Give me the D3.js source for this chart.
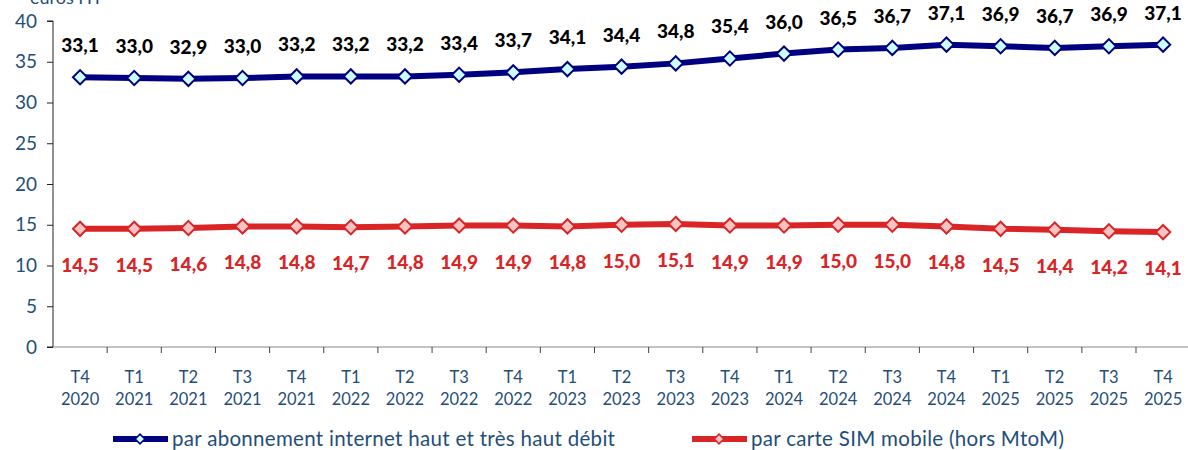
<!DOCTYPE html>
<html>
<head>
<meta charset="utf-8">
<script src="https://cdn.jsdelivr.net/npm/d3@7"></script>
<style>
  body { margin: 0; background: #fff; }
  svg text { font-family: Lato, "Open Sans", sans-serif; }
</style>
</head>
<body>
<div id="chart"></div>
<script>
const quarters = ['T4', 'T1', 'T2', 'T3', 'T4', 'T1', 'T2', 'T3', 'T4', 'T1', 'T2', 'T3', 'T4', 'T1', 'T2', 'T3', 'T4', 'T1', 'T2', 'T3', 'T4'];
const years = ['2020', '2021', '2021', '2021', '2021', '2022', '2022', '2022', '2022', '2023', '2023', '2023', '2023', '2024', '2024', '2024', '2024', '2025', '2025', '2025', '2025'];
const internet = [33.1, 33.0, 32.9, 33.0, 33.2, 33.2, 33.2, 33.4, 33.7, 34.1, 34.4, 34.8, 35.4, 36.0, 36.5, 36.7, 37.1, 36.9, 36.7, 36.9, 37.1];
const sim = [14.5, 14.5, 14.6, 14.8, 14.8, 14.7, 14.8, 14.9, 14.9, 14.8, 15.0, 15.1, 14.9, 14.9, 15.0, 15.0, 14.8, 14.5, 14.4, 14.2, 14.1];
const yTicks = [0, 5, 10, 15, 20, 25, 30, 35, 40];
const seriesNames = ['par abonnement internet haut et très haut débit', 'par carte SIM mobile (hors MtoM)'];

const width = 1188;
const height = 450;
const plotLeft = 53;
const plotTop = 21;
const plotBottom = 347;
const step = 54.15;
const axisColor = '#1f4e79';

const keys = quarters.map((q, i) => i);

const x = d3.scaleBand()
  .domain(keys)
  .range([plotLeft, plotLeft + step * keys.length]);

const y = d3.scaleLinear()
  .domain([0, 40])
  .range([plotBottom, plotTop]);

const svg = d3.select('#chart')
  .append('svg')
  .attr('width', width)
  .attr('height', height);

// unit text, cut off at the top like in the source
svg.append('text')
  .attr('x', 30)
  .attr('y', 4)
  .attr('fill', axisColor)
  .style('font-size', '18px')
  .text('euros HT');

// y axis
const yAxis = svg.append('g')
  .attr('transform', 'translate(' + plotLeft + ',0)')
  .call(d3.axisLeft(y).tickValues(yTicks).tickSize(6).tickPadding(10));
yAxis.select('.domain').attr('stroke', '#222').attr('d', 'M-6,' + plotTop + 'H0V' + plotBottom + 'H-6');
yAxis.selectAll('.tick line').attr('stroke', '#222');
yAxis.selectAll('.tick text')
  .attr('fill', axisColor)
  .style('font-size', '19px');

// x axis
const xAxis = svg.append('g')
  .attr('transform', 'translate(0,' + plotBottom + ')');
xAxis.append('line')
  .attr('x1', plotLeft)
  .attr('x2', width)
  .attr('stroke', '#888')
  .attr('stroke-width', 1.2);
xAxis.selectAll('.xtick')
  .data(keys)
  .enter()
  .append('line')
  .attr('x1', d => x(d) + x.bandwidth())
  .attr('x2', d => x(d) + x.bandwidth())
  .attr('y1', 0)
  .attr('y2', 6)
  .attr('stroke', '#444');
const xl = xAxis.selectAll('.xlabel')
  .data(keys)
  .enter()
  .append('text')
  .attr('text-anchor', 'middle')
  .attr('fill', axisColor)
  .style('font-size', '16.5px');
xl.append('tspan')
  .attr('x', d => x(d) + x.bandwidth() / 2)
  .attr('y', 36)
  .text(d => quarters[d]);
xl.append('tspan')
  .attr('x', d => x(d) + x.bandwidth() / 2)
  .attr('y', 58)
  .text(d => years[d]);

const fmt = v => d3.format('.1f')(v).replace('.', ',');
const cx = i => x(i) + x.bandwidth() / 2;

function diamond(sel, fill, stroke) {
  sel.append('path')
    .attr('d', d3.symbol(d3.symbolDiamond2, 130)())
    .attr('fill', fill)
    .attr('stroke', stroke)
    .attr('stroke-width', 2);
}

function drawSeries(values, color, fill, labelColor, dy) {
  const line = d3.line()
    .x((d, i) => cx(i))
    .y(d => y(d));
  svg.append('path')
    .datum(values)
    .attr('d', line)
    .attr('fill', 'none')
    .attr('stroke', color)
    .attr('stroke-width', 6);
  const pts = svg.selectAll(null)
    .data(values)
    .enter()
    .append('g')
    .attr('transform', (d, i) => 'translate(' + cx(i) + ',' + y(d) + ')');
  diamond(pts, fill, color);
  svg.selectAll(null)
    .data(values)
    .enter()
    .append('text')
    .attr('x', (d, i) => cx(i))
    .attr('y', d => y(d) + dy)
    .attr('text-anchor', 'middle')
    .attr('fill', labelColor)
    .style('font-size', '19px')
    .style('font-weight', '900')
    .text(d => fmt(d));
}

drawSeries(internet, '#000080', '#ccffff', '#000', -25);
drawSeries(sim, '#d92526', '#f7c3c3', '#d92526', 43);

// legend
const legend = svg.append('g');
const legendItems = [
  { name: seriesNames[0], color: '#000080', fill: '#ccffff', x: 113 },
  { name: seriesNames[1], color: '#d92526', fill: '#f7c3c3', x: 692 }
];
legendItems.forEach(item => {
  const g = legend.append('g').attr('transform', 'translate(' + item.x + ',439)');
  g.append('line')
    .attr('x1', 0)
    .attr('x2', 55)
    .attr('stroke', item.color)
    .attr('stroke-width', 6);
  g.append('path')
    .attr('transform', 'translate(27,0)')
    .attr('d', d3.symbol(d3.symbolDiamond2, 60)())
    .attr('fill', item.fill)
    .attr('stroke', item.color)
    .attr('stroke-width', 1.5);
  g.append('text')
    .attr('x', 59)
    .attr('y', 6.5)
    .attr('fill', axisColor)
    .style('font-size', '20.5px')
    .style('letter-spacing', '0.3px')
    .text(item.name);
});
</script>
</body>
</html>
